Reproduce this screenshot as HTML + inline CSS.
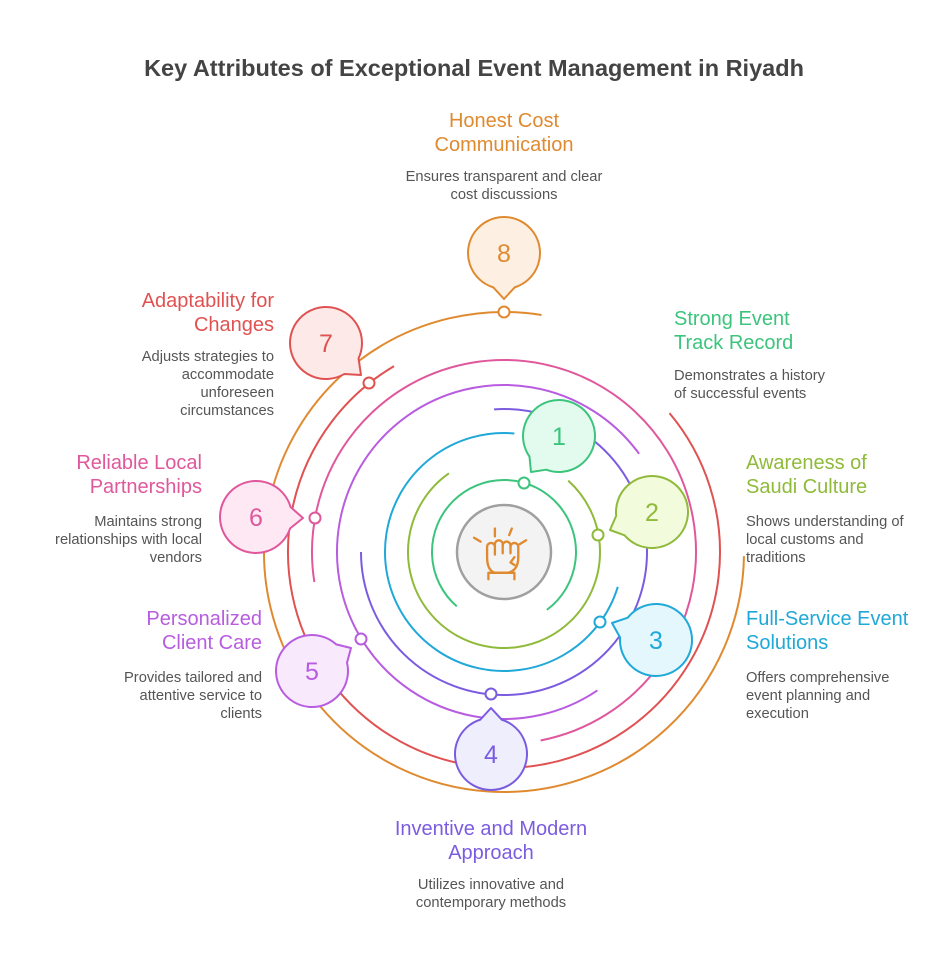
<!DOCTYPE html>
<html><head><meta charset="utf-8"><style>
body{margin:0;background:#fff;width:948px;height:960px;overflow:hidden;font-family:"Liberation Sans",sans-serif}
</style></head><body>
<svg id="s" width="948" height="960" xmlns="http://www.w3.org/2000/svg" font-family="Liberation Sans, sans-serif">
<text x="474" y="76" text-anchor="middle" font-size="23.5" font-weight="bold" fill="#444">Key Attributes of Exceptional Event Management in Riyadh</text>
<g font-size="20">
<text x="504" y="127" text-anchor="middle" fill="#e08a30">Honest Cost</text>
<text x="504" y="151" text-anchor="middle" fill="#e08a30">Communication</text>
<text x="674" y="325" fill="#3cc47c">Strong Event</text>
<text x="674" y="349" fill="#3cc47c">Track Record</text>
<text x="746" y="469" fill="#8fba3a">Awareness of</text>
<text x="746" y="493" fill="#8fba3a">Saudi Culture</text>
<text x="746" y="625" fill="#1fa8d8">Full-Service Event</text>
<text x="746" y="649" fill="#1fa8d8">Solutions</text>
<text x="491" y="835" text-anchor="middle" fill="#7b5ce0">Inventive and Modern</text>
<text x="491" y="859" text-anchor="middle" fill="#7b5ce0">Approach</text>
<text x="262" y="625" text-anchor="end" fill="#b85ce0">Personalized</text>
<text x="262" y="649" text-anchor="end" fill="#b85ce0">Client Care</text>
<text x="202" y="469" text-anchor="end" fill="#e0579c">Reliable Local</text>
<text x="202" y="493" text-anchor="end" fill="#e0579c">Partnerships</text>
<text x="274" y="307" text-anchor="end" fill="#e05252">Adaptability for</text>
<text x="274" y="331" text-anchor="end" fill="#e05252">Changes</text>
</g>
<g font-size="14.7" fill="#555">
<text x="504" y="181" text-anchor="middle">Ensures transparent and clear</text>
<text x="504" y="199" text-anchor="middle">cost discussions</text>
<text x="674" y="380">Demonstrates a history</text>
<text x="674" y="398">of successful events</text>
<text x="746" y="526">Shows understanding of</text>
<text x="746" y="544">local customs and</text>
<text x="746" y="562">traditions</text>
<text x="746" y="682">Offers comprehensive</text>
<text x="746" y="700">event planning and</text>
<text x="746" y="718">execution</text>
<text x="491" y="889" text-anchor="middle">Utilizes innovative and</text>
<text x="491" y="907" text-anchor="middle">contemporary methods</text>
<text x="262" y="682" text-anchor="end">Provides tailored and</text>
<text x="262" y="700" text-anchor="end">attentive service to</text>
<text x="262" y="718" text-anchor="end">clients</text>
<text x="202" y="526" text-anchor="end">Maintains strong</text>
<text x="202" y="544" text-anchor="end">relationships with local</text>
<text x="202" y="562" text-anchor="end">vendors</text>
<text x="274" y="361" text-anchor="end">Adjusts strategies to</text>
<text x="274" y="379" text-anchor="end">accommodate</text>
<text x="274" y="397" text-anchor="end">unforeseen</text>
<text x="274" y="415" text-anchor="end">circumstances</text>
</g>
<g id="arcs" fill="none" stroke-width="2"></g>
<g id="bub" stroke-width="2"></g>
<circle cx="504" cy="552" r="47" fill="#f3f3f3" stroke="#a0a0a0" stroke-width="2.5"/>
<g fill="none" stroke="#e08a30" stroke-width="1.8" stroke-linecap="round" stroke-linejoin="round" transform="translate(504 552) scale(1.3) translate(-504 -552)">
<path d="M497 540 v-6 M508 539 l2 -5 M486 544 l-5 -3 M516 546 l5 -3"/>
<path d="M491 556 v-8 a3 3 0 0 1 6 0 v-2 a3 3 0 0 1 6 0 v1 a3 3 0 0 1 6 0 v1 a3 3 0 0 1 6 0 v8 q0 10 -8 12 h-10 q-6 -2 -6 -12 z"/>
<path d="M497 548 v6 M503 547 v6 M509 548 v5 M512 556 l-3 4 l3 2"/>
<path d="M492 573 v-5 h20 v5"/>
</g>
</svg>
<script>
var cx=504,cy=552,NS="http://www.w3.org/2000/svg";
function P(r,a){a=a*Math.PI/180;return [cx+r*Math.cos(a),cy+r*Math.sin(a)];}
var cols=["#3cc47c","#8fba3a","#1fa8d8","#7b5ce0","#b85ce0","#e0579c","#e05252","#e08a30"];
var fills=["#e2fbee","#f2fbdc","#e3f7fd","#efeefd","#f8eafc","#fde8f3","#fde9e8","#fdf0e3"];
var arcs=[[72,131,413.5],[96,312,595],[119,17,275],[143,266,540],[167,56,324],[192,171,439],[216,320,599.4],[240,1,279]];
var dots=[[524,483],[598,535],[600,622],[491,694],[361,639],[315,518],[369,383],[504,312]];
var bubs=[[559,436,531,472],[652,512,610,530],[656,640,612,623],[491,754,491,708],[312,671,351,648],[256,517,303,518],[326,343,361,375],[504,253,504,299]];
var g=document.getElementById("arcs"),b=document.getElementById("bub");
function el(t,at,p){var e=document.createElementNS(NS,t);for(var k in at)e.setAttribute(k,at[k]);p.appendChild(e);return e;}
for(var i=0;i<8;i++){
 var a=arcs[i],p1=P(a[0],a[1]),p2=P(a[0],a[2]),lg=(a[2]-a[1])>180?1:0;
 el("path",{d:"M"+p1+" A"+a[0]+" "+a[0]+" 0 "+lg+" 1 "+p2,stroke:cols[i]},g);
 el("circle",{cx:dots[i][0],cy:dots[i][1],r:5.5,fill:"#fff",stroke:cols[i],"stroke-width":2},g);
 var q=bubs[i],R=36,phi=Math.atan2(q[3]-q[1],q[2]-q[0]),th=0.3;
 var s=[q[0]+R*Math.cos(phi+th),q[1]+R*Math.sin(phi+th)],e=[q[0]+R*Math.cos(phi-th),q[1]+R*Math.sin(phi-th)];
 el("path",{d:"M"+s+" A36 36 0 1 1 "+e+" L"+q[2]+" "+q[3]+" Z",fill:fills[i],stroke:cols[i],"stroke-linejoin":"round"},b);
 var t=el("text",{x:q[0],y:q[1]+9,"text-anchor":"middle","font-size":"25",fill:cols[i]},b);t.textContent=String(i+1);
}
</script>
</body></html>
